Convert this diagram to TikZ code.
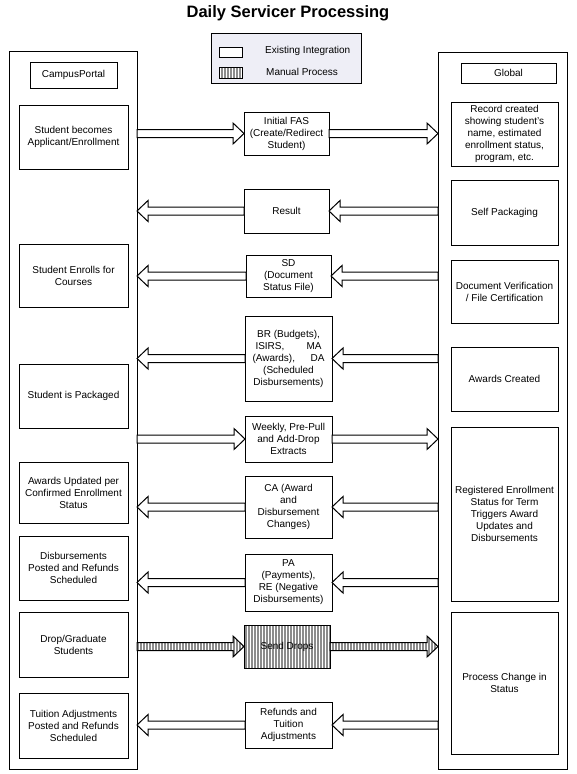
\documentclass[tikz,border=0pt]{standalone}
\usepackage{fontspec}
\setmainfont{Liberation Sans}
\usetikzlibrary{calc,patterns.meta}
\definecolor{legendbg}{RGB}{238,238,246}
\tikzset{
  x=1pt, y=1pt,
  box/.style={draw, line width=0.9pt, fill=white, align=center, inner sep=1pt, outer sep=0pt,
    font=\fontsize{10}{12}\selectfont},
  blk/.style={draw, line width=1pt, fill=white, line join=miter},
  manual/.style={preaction={fill=white}, pattern={Lines[angle=90,distance=3pt,line width=1.3pt]},
    pattern color=gray!90},
}
% box by corners: [opts]{name}{x1}{y1}{x2}{y2}{text}
\newcommand\bx[7][]{\node[box,minimum width={#5-#3},minimum height={#6-#4},#1] (#2)
  at ({(#3+#5)/2},{-(#4+#6)/2}) {#7};}
% block arrow from point #2 to tip #3 (horizontal)
\newcommand\barrow[3][]{\draw[blk,#1] let \p1=(#2), \p2=(#3),
  \n1={ifthenelse(\x2>\x1,-11,11)} in
  (\x1,\y2+4pt) -- ({\x2+(\n1)},\y2+4pt) -- ({\x2+(\n1)},\y2+10.5pt) -- (\x2,\y2)
  -- ({\x2+(\n1)},\y2-10.5pt) -- ({\x2+(\n1)},\y2-4pt) -- (\x1,\y2-4pt) -- cycle;}
\begin{document}
\begin{tikzpicture}
\useasboundingbox (0,0) rectangle (577,-774);
% title
\node[font=\fontsize{16.5}{18}\selectfont\bfseries, anchor=base] (title) at (288,-17) {Daily Servicer Processing};
% legend
\node[draw, line width=0.9pt, fill=legendbg, minimum width=150, minimum height=50, outer sep=0pt] (legend) at (286,-58) {};
\node[box, minimum width=23, minimum height=10] (legA) at (230.5,-52) {};
\node[box, manual, minimum width=23, minimum height=11] (legB) at (230.5,-72.5) {};
\node[font=\fontsize{10}{12}\selectfont, anchor=west, inner sep=0pt] (legAt) at (265,-51) {Existing Integration};
\node[font=\fontsize{10}{12}\selectfont, anchor=west, inner sep=0pt] (legBt) at (266,-72) {Manual Process};
% columns
\bx{L}{9}{51}{137}{769}{}
\bx{R}{438}{52}{567}{769}{}
\bx{cp}{30}{62}{117}{88}{CampusPortal}
\bx{gl}{461}{63}{556}{83}{Global}
% left boxes
\bx{l1}{19}{105}{128}{169}{Student becomes\\Applicant/Enrollment}
\bx{l2}{19}{244}{128}{307}{Student Enrolls for\\Courses}
\bx{l3}{19}{364}{128}{428}{Student is Packaged}
\bx{l4}{19}{462}{128}{523}{Awards Updated per\\Confirmed Enrollment\\Status}
\bx{l5}{19}{536}{128}{600}{Disbursements\\Posted and Refunds\\Scheduled}
\bx{l6}{19}{612}{128}{677}{Drop/Graduate\\Students}
\bx{l7}{19}{693}{128}{758}{Tuition Adjustments\\Posted and Refunds\\Scheduled}
% right boxes
\bx{r1}{451}{102}{558}{166}{Record created\\showing student's\\name, estimated\\enrollment status,\\program, etc.}
\bx{r2}{451}{180}{558}{245}{Self Packaging}
\bx{r3}{451}{260}{558}{323}{Document Verification\\/ File Certification}
\bx{r4}{451}{347}{558}{411}{Awards Created}
\bx{r5}{451}{427}{558}{601}{Registered Enrollment\\Status for Term\\Triggers Award\\Updates and\\Disbursements}
\bx{r6}{451}{612}{558}{754}{Process Change in\\Status}
% middle boxes
\bx{fas}{244}{112}{329}{155}{Initial FAS\\(Create/Redirect\\Student)}
\bx{res}{244}{189}{329}{233}{Result}
\bx{sd}{246}{255}{331}{297}{SD\\(Document\\Status File)}
\bx{br}{245}{316}{332}{401}{BR (Budgets),\\\makebox[66pt][s]{ISIRS,\hfill MA}\\\makebox[72pt][s]{(Awards),\hfill DA}\\(Scheduled\\Disbursements)}
\bx{wk}{245}{416}{332}{462}{Weekly, Pre-Pull\\and Add-Drop\\Extracts}
\bx{ca}{245}{476}{332}{538}{CA (Award\\and\\Disbursement\\Changes)}
\bx{pa}{245}{554}{332}{611}{PA\\(Payments),\\RE (Negative\\Disbursements)}
\bx[manual]{drops}{244}{625}{330}{668}{Send Drops}
\bx{rf}{245}{702}{332}{748}{Refunds and\\Tuition\\Adjustments}
% arrows
\barrow{L.east |- fas.center}{fas.west}
\barrow{fas.east}{R.west |- fas.center}
\barrow{R.west |- res.center}{res.east}
\barrow{res.west}{L.east |- res.center}
\barrow{R.west |- sd.center}{sd.east}
\barrow{sd.west}{L.east |- sd.center}
\barrow{R.west |- br.center}{br.east}
\barrow{br.west}{L.east |- br.center}
\barrow{L.east |- wk.center}{wk.west}
\barrow{wk.east}{R.west |- wk.center}
\barrow{R.west |- ca.center}{ca.east}
\barrow{ca.west}{L.east |- ca.center}
\barrow{R.west |- pa.center}{pa.east}
\barrow{pa.west}{L.east |- pa.center}
\barrow[manual]{L.east |- drops.center}{drops.west}
\barrow[manual]{drops.east}{R.west |- drops.center}
\barrow{R.west |- rf.center}{rf.east}
\barrow{rf.west}{L.east |- rf.center}
\end{tikzpicture}
\end{document}
